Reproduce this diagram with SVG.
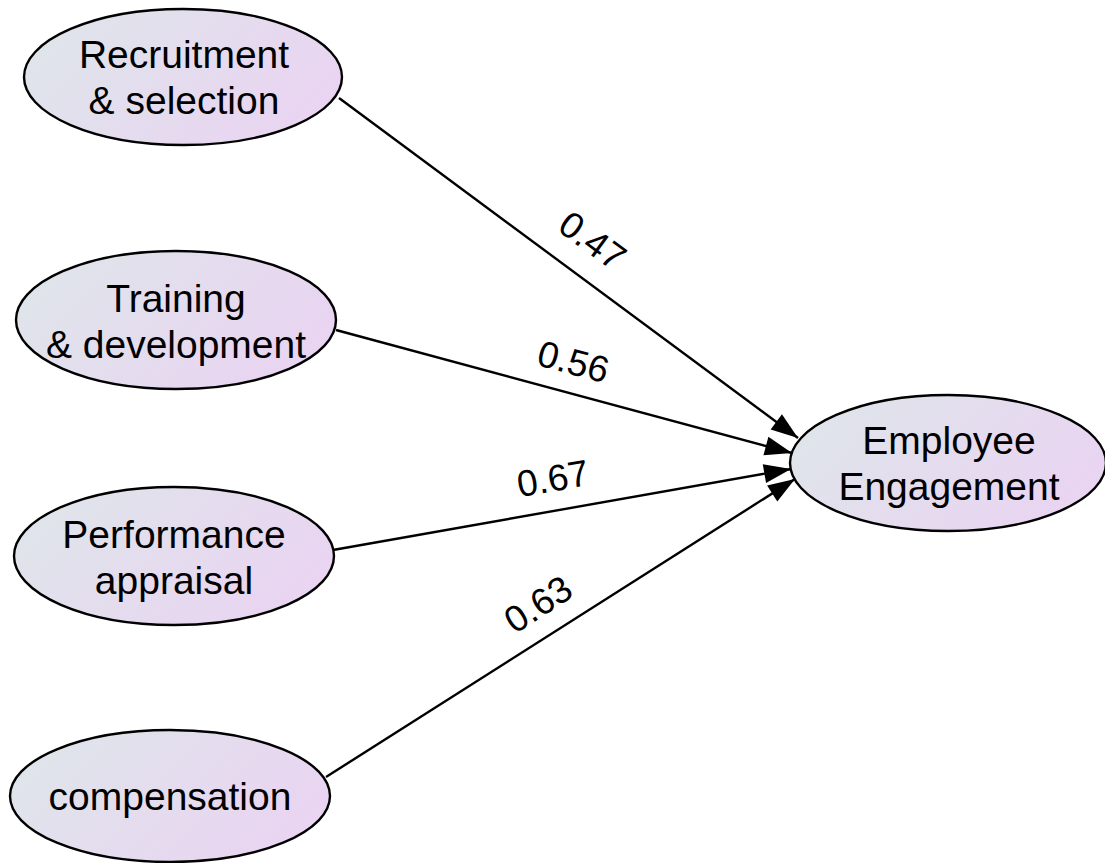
<svg xmlns="http://www.w3.org/2000/svg" width="1105" height="863" viewBox="0 0 1105 863">
  <style>
    .node ellipse { fill: url(#nodeFill); stroke: #000; stroke-width: 2.4; }
    .node text { font-family: "Liberation Sans", Arial, sans-serif; font-size: 39px; fill: #000; text-anchor: middle; }
    .edge line { stroke: #000; stroke-width: 2.4; marker-end: url(#arrow); }
    .edge text { font-family: "Liberation Sans", Arial, sans-serif; font-size: 37px; fill: #000; text-anchor: middle; }
  </style>
  <defs>
    <linearGradient id="nodeFill" x1="0" y1="0.3" x2="1" y2="0.7">
      <stop offset="0" stop-color="#dfe5ea"/>
      <stop offset="1" stop-color="#ead3f2"/>
    </linearGradient>
    <!-- filled triangular arrowhead, tip placed at the line end -->
    <marker id="arrow" viewBox="0 0 27 19" refX="27" refY="9.5" markerWidth="27" markerHeight="19" markerUnits="userSpaceOnUse" orient="auto" overflow="visible">
      <path d="M0,0 L27,9.5 L0,19 Z" fill="#000"/>
    </marker>
  </defs>
  <rect width="1105" height="863" fill="#fff"/>

  <g id="connectors" class="edge">
    <line x1="339" y1="98" x2="798" y2="438"/>
    <line x1="336" y1="330" x2="792" y2="453"/>
    <line x1="333" y1="550" x2="791" y2="469"/>
    <line x1="326" y1="777" x2="795" y2="479"/>
    <text transform="translate(585,251) rotate(36)">0.47</text>
    <text transform="translate(570,374) rotate(15)">0.56</text>
    <text transform="translate(555,491) rotate(-10)">0.67</text>
    <text transform="translate(545,615) rotate(-33)">0.63</text>
  </g>

  <g id="recruitment" class="node">
    <ellipse cx="183" cy="77" rx="159" ry="68"/>
    <text x="184" y="68">Recruitment</text>
    <text x="184" y="114">&amp; selection</text>
  </g>
  <g id="training" class="node">
    <ellipse cx="176" cy="320" rx="160" ry="69"/>
    <text x="176" y="312">Training</text>
    <text x="176" y="358">&amp; development</text>
  </g>
  <g id="performance" class="node">
    <ellipse cx="174" cy="556" rx="160" ry="69"/>
    <text x="174" y="548">Performance</text>
    <text x="174" y="594">appraisal</text>
  </g>
  <g id="compensation" class="node">
    <ellipse cx="170" cy="796" rx="160" ry="66"/>
    <text x="170" y="810">compensation</text>
  </g>
  <g id="engagement" class="node">
    <ellipse cx="948" cy="463" rx="158" ry="68"/>
    <text x="949" y="454">Employee</text>
    <text x="949" y="500">Engagement</text>
  </g>
</svg>
